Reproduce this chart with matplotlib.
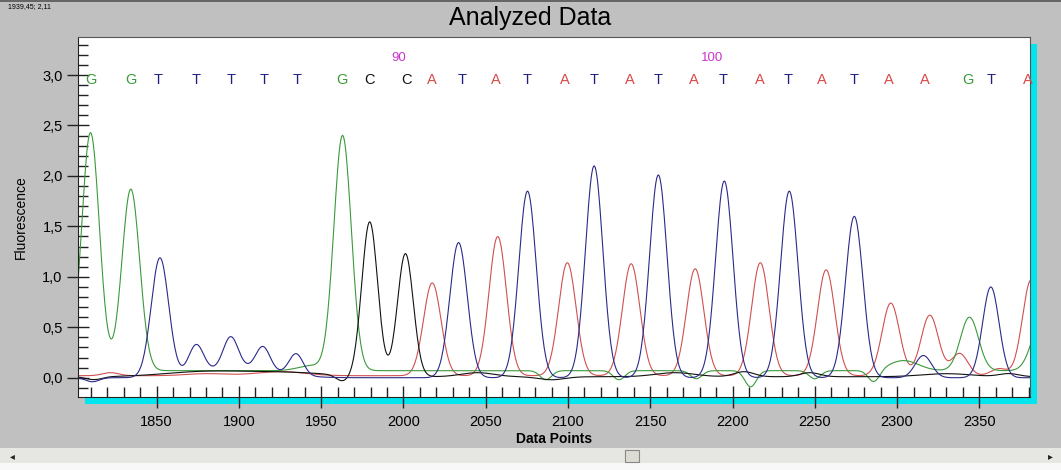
import numpy as np
import matplotlib
matplotlib.use('Agg')
import matplotlib.pyplot as plt
from matplotlib.patches import Rectangle
from matplotlib.ticker import MultipleLocator, FuncFormatter

plt.rcParams['font.family'] = ['Liberation Sans', 'DejaVu Sans']

# peaks: centre (data points), height above baseline, width (sigma)
green_c = [1809.8, 1834.3, 1944.0, 1963.0, 2086.5, 2131.0, 2178.0, 2211.0, 2250.0, 2286.0, 2304.0, 2344.0, 2388.0]
green_h = [2.36, 1.80, 0.05, 2.33, -0.09, -0.09, -0.08, -0.16, -0.08, -0.12, 0.10, 0.53, 0.50]
green_w = [5.4, 5.4, 8.0, 5.3, 3.5, 3.5, 3.5, 3.5, 3.5, 3.5, 9.0, 5.5, 6.0]
green_base = 0.07

blue_c = [1811.0, 1852.0, 1900.0, 1874.0, 1895.0, 1914.6, 1934.8, 2033.5, 2075.4, 2115.9, 2154.9, 2195.0, 2234.5, 2274.0, 2316.0, 2357.0]
blue_h = [-0.04, 1.18, 0.10, 0.28, 0.31, 0.23, 0.21, 1.34, 1.85, 2.10, 2.01, 1.95, 1.85, 1.60, 0.22, 0.90]
blue_w = [4.0, 5.3, 22.0, 4.5, 4.5, 4.3, 4.3, 5.3, 5.3, 5.3, 5.3, 5.3, 5.3, 5.3, 5.0, 5.0]
blue_base = 0.0

black_c = [1812.0, 1880.0, 1930.0, 1963.0, 1979.5, 2001.2, 2045.0, 2090.0, 2165.0, 2207.0, 2247.0, 2330.0, 2368.0]
black_h = [-0.03, 0.05, 0.04, -0.06, 1.53, 1.22, 0.04, -0.03, 0.04, 0.05, 0.04, 0.03, 0.03]
black_w = [5.0, 25.0, 25.0, 4.0, 4.8, 4.8, 10.0, 8.0, 12.0, 6.0, 6.0, 15.0, 6.0]
black_base = 0.01

red_c = [1822.0, 1880.0, 1925.0, 2017.5, 2057.3, 2099.6, 2138.4, 2177.3, 2216.9, 2256.9, 2296.2, 2319.9, 2338.0, 2362.0, 2381.5]
red_h = [0.03, 0.02, 0.04, 0.92, 1.38, 1.12, 1.11, 1.06, 1.12, 1.05, 0.72, 0.60, 0.22, 0.07, 0.95]
red_w = [5.0, 12.0, 15.0, 5.3, 5.3, 5.3, 5.3, 5.3, 5.3, 5.3, 5.3, 5.3, 5.0, 5.0, 5.3]
red_base = 0.02

# called bases
base_pos = [1809.8, 1834.1, 1851.2, 1873.8, 1895.1, 1915.2, 1935.4, 1962.8, 1979.3, 2001.8,
            2017.1, 2035.5, 2056.1, 2075.0, 2098.2, 2115.9, 2137.8, 2154.9, 2176.2, 2194.5,
            2216.5, 2233.5, 2254.3, 2273.8, 2295.1, 2317.1, 2343.3, 2357.3, 2379.3]
base_seq = 'GGTTTTTGCCATATATATATATATAAGTA'
num_pos = [1997.0, 2187.8]
num_lab = ['90', '100']

col = {'G': '#3a9a3a', 'T': '#1e1e82', 'C': '#111111', 'A': '#d84848'}

x = np.arange(1800, 2386, 0.5)

def trace(c, h, w, b):
    y = np.full_like(x, b)
    for ci, hi, wi in zip(c, h, w):
        y += hi * np.exp(-0.5 * ((x - ci) / wi) ** 2)
    return y

fig = plt.figure(figsize=(10.61, 4.70), dpi=100)
fig.patch.set_facecolor('#c0c0c0')

L, R, B, T = 78/1061, 1030/1061, 1-397/470, 1-37/470
# cyan shadow
sx, sy = 7/1061, 7/470
fig.patches.append(Rectangle((L+sx, B-sy), R-L, T-B, transform=fig.transFigure,
                             facecolor='#00e5ee', edgecolor='none', zorder=-5))
ax = fig.add_axes([L, B, R-L, T-B])
ax.set_zorder(2)
ax.set_facecolor('white')

ax.plot(x, trace(red_c, red_h, red_w, red_base), color='#d05050', lw=0.8)
ax.plot(x, trace(green_c, green_h, green_w, green_base), color='#3a9a3a', lw=0.8)
ax.plot(x, trace(black_c, black_h, black_w, black_base), color='#111111', lw=0.8)
ax.plot(x, trace(blue_c, blue_h, blue_w, blue_base), color='#2a2a8a', lw=0.8)

for p, s in zip(base_pos, base_seq):
    ax.text(p, 2.95, s, color=col[s], fontsize=10.5, ha='center', va='center', clip_on=False)
for p, s in zip(num_pos, num_lab):
    ax.text(p, 3.17, s, color='#cc33cc', fontsize=9.5, ha='center', va='center')

ax.set_xlim(1802.2, 2380.8)
ax.set_ylim(-0.191, 3.377)
ax.xaxis.set_major_locator(MultipleLocator(50))
ax.xaxis.set_minor_locator(MultipleLocator(10))
ax.yaxis.set_major_locator(MultipleLocator(0.5))
ax.yaxis.set_minor_locator(MultipleLocator(0.1))
ax.yaxis.set_major_formatter(FuncFormatter(lambda v, p: ('%.1f' % v).replace('.', ',')))
ax.tick_params(axis='both', which='major', direction='inout', length=16, width=1, labelsize=10.5, color='#222222')
ax.tick_params(axis='both', which='minor', direction='in', length=7, width=1, color='#222222')
ax.tick_params(axis='x', pad=5)
ax.tick_params(axis='y', pad=3)
for s in ['left', 'bottom']:
    ax.spines[s].set_color('#222222')
for s in ['top', 'right']:
    ax.spines[s].set_color('#555555')

ax.set_xlabel('Data Points', fontsize=10, fontweight='bold', labelpad=2)
ax.set_ylabel('Fluorescence', fontsize=10, labelpad=10)
fig.text(0.5, 1-18/470, 'Analyzed Data', fontsize=18, ha='center', va='center')
fig.text(8/1061, 1-7/470, '1939,45; 2,11', fontsize=5, ha='left', va='center')

# window border and scrollbar
fig.patches.append(Rectangle((0, 1-2/470), 1, 2/470, transform=fig.transFigure,
                             facecolor='#666666', edgecolor='none'))
fig.patches.append(Rectangle((0, 0), 1, 22/470, transform=fig.transFigure,
                             facecolor='#e6e6e2', edgecolor='none'))
fig.patches.append(Rectangle((0, 0), 1, 7/470, transform=fig.transFigure,
                             facecolor='#f8f8f8', edgecolor='none'))
fig.patches.append(Rectangle((625/1061, 8/470), 14/1061, 12/470, transform=fig.transFigure,
                             facecolor='#dcdcd4', edgecolor='#888888', lw=0.8))
fig.text(12/1061, 14/470, '\u25c2', fontsize=7, ha='center', va='center', color='#222222',
         family=['DejaVu Sans'])
fig.text(1050/1061, 14/470, '\u25b8', fontsize=7, ha='center', va='center', color='#222222',
         family=['DejaVu Sans'])

fig.savefig('out.png', dpi=100, facecolor=fig.get_facecolor())
